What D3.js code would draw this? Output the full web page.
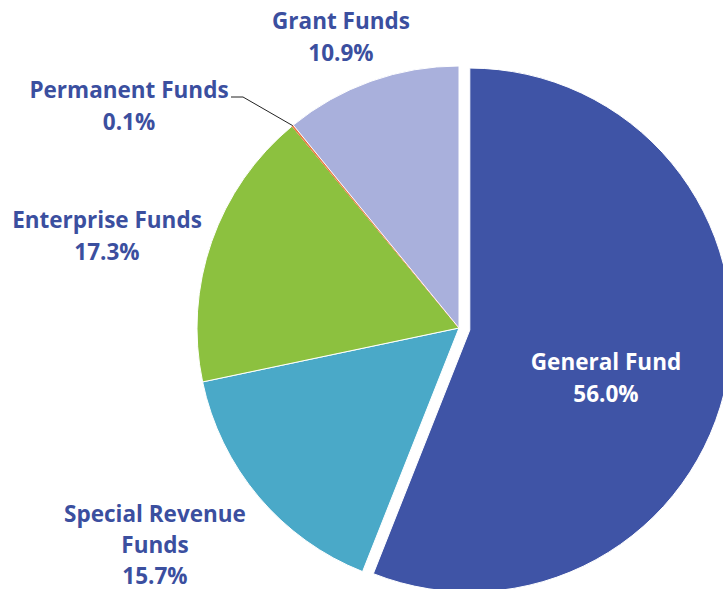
<!DOCTYPE html>
<html><head><meta charset="utf-8">
<script src="https://cdn.jsdelivr.net/npm/d3@7"></script>
<style>html,body{margin:0;padding:0;background:#fff;}svg{display:block;}</style>
</head><body>
<svg id="c" width="723" height="589"></svg>
<script>
const categories = ["General Fund", "Special Revenue Funds", "Enterprise Funds", "Permanent Funds", "Grant Funds"];
const values = [56.0, 15.7, 17.3, 0.1, 10.9];
const colors = ["#3f54a6", "#4aa9c8", "#8cc13f", "#e8743f", "#a9b0dc"];
const labelLines = [["General Fund", "56.0%"], ["Special Revenue", "Funds", "15.7%"], ["Enterprise Funds", "17.3%"], ["Permanent Funds", "0.1%"], ["Grant Funds", "10.9%"]];

const svg = d3.select("#c");
const cx = 459, cy = 328, R = 262, explode = 11;
const g = svg.append("g").attr("transform", `translate(${cx},${cy})`);
const pie = d3.pie().sort(null).value(d => d)(values);
const arc = d3.arc().innerRadius(0).outerRadius(R);

pie.forEach((p, i) => {
  const mid = (p.startAngle + p.endAngle) / 2;
  const off = i === 0 ? explode : 0;
  g.append("path")
    .attr("d", arc(p))
    .attr("transform", `translate(${Math.sin(mid) * off},${-Math.cos(mid) * off})`)
    .attr("fill", colors[i])
    .attr("stroke", i === 3 ? colors[i] : "#fff")
    .attr("stroke-width", i === 3 ? 0.8 : 1);
});

// leader line for Permanent Funds
const pp = pie[3];
const pm = (pp.startAngle + pp.endAngle) / 2;
const px = cx + Math.sin(pm) * R, py = cy - Math.cos(pm) * R;
svg.append("polyline")
  .attr("points", `231,97 243,97 ${px},${py}`)
  .attr("fill", "none").attr("stroke", "#222").attr("stroke-width", 1);

const labelPos = [[606, 370], [155, 522], [107, 228], [129, 98], [341, 29]];
const lh = 32;
labelLines.forEach((lines, i) => {
  const t = svg.append("text")
    .attr("text-anchor", "middle")
    .attr("font-family", "'Open Sans', sans-serif")
    .attr("font-weight", 700)
    .attr("font-size", 22.5)
    .attr("fill", i === 0 ? "#ffffff" : "#3b4f9f");
  lines.forEach((s, j) => {
    t.append("tspan").attr("x", labelPos[i][0]).attr("y", labelPos[i][1] + j * (i === 1 ? 31 : lh)).text(s);
  });
});
</script>
</body></html>
